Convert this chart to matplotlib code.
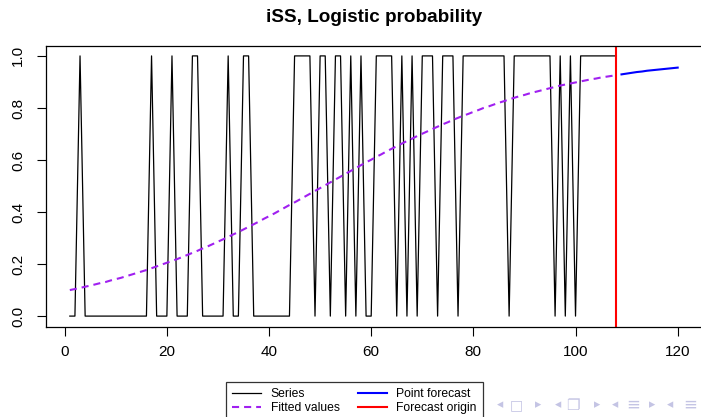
import matplotlib
matplotlib.use('Agg')
import matplotlib.pyplot as plt
from matplotlib.lines import Line2D

plt.rcParams['font.family'] = ['Liberation Sans', 'DejaVu Sans']

# Serie binaria observada (t = 1..108)
series = [0, 0, 1, 0, 0, 0, 0, 0, 0, 0, 0, 0, 0, 0, 0, 0, 1, 0, 0, 0,
          1, 0, 0, 0, 1, 1, 0, 0, 0, 0, 0, 1, 0, 0, 1, 1, 0, 0, 0, 0,
          0, 0, 0, 0, 1, 1, 1, 1, 0, 1, 1, 0, 1, 1, 0, 1, 0, 1, 0, 0,
          1, 1, 1, 1, 0, 1, 0, 1, 0, 1, 1, 1, 0, 1, 1, 1, 0, 1, 1, 1,
          1, 1, 1, 1, 1, 1, 0, 1, 1, 1, 1, 1, 1, 1, 1, 0, 1, 0, 1, 0,
          1, 1, 1, 1, 1, 1, 1, 1]

# Valores ajustados (probabilidad logistica)
fitted = [0.100, 0.104, 0.108, 0.113, 0.117, 0.122, 0.127, 0.131, 0.137, 0.142,
          0.147, 0.153, 0.159, 0.165, 0.171, 0.177, 0.184, 0.191, 0.198, 0.205,
          0.212, 0.219, 0.227, 0.235, 0.243, 0.251, 0.260, 0.268, 0.277, 0.286,
          0.295, 0.304, 0.314, 0.323, 0.333, 0.343, 0.353, 0.363, 0.374, 0.384,
          0.394, 0.405, 0.416, 0.427, 0.437, 0.448, 0.459, 0.470, 0.481, 0.492,
          0.503, 0.514, 0.525, 0.536, 0.547, 0.558, 0.569, 0.580, 0.591, 0.601,
          0.612, 0.622, 0.633, 0.643, 0.653, 0.663, 0.673, 0.682, 0.692, 0.701,
          0.710, 0.719, 0.728, 0.737, 0.745, 0.754, 0.762, 0.770, 0.777, 0.785,
          0.792, 0.800, 0.806, 0.813, 0.820, 0.826, 0.833, 0.839, 0.845, 0.850,
          0.856, 0.861, 0.866, 0.871, 0.876, 0.881, 0.886, 0.890, 0.894, 0.898,
          0.902, 0.906, 0.910, 0.913, 0.917, 0.920, 0.923, 0.926]

# Pronostico puntual (t = 109..120)
forecast = [0.929, 0.932, 0.935, 0.938, 0.940, 0.943, 0.945, 0.947, 0.949, 0.951,
            0.953, 0.955]

origin = 108
x_ticks = [0, 20, 40, 60, 80, 100, 120]
y_ticks = [0.0, 0.2, 0.4, 0.6, 0.8, 1.0]
y_labels = ['0.0', '0.2', '0.4', '0.6', '0.8', '1.0']

t_obs = list(range(1, len(series) + 1))
t_fc = list(range(origin + 1, origin + 1 + len(forecast)))

W, H = 701, 417
fig = plt.figure(figsize=(W / 100, H / 100), dpi=100)
ax = fig.add_axes([45.5 / W, 1 - 326.5 / H, (702 - 45.5) / W, (326.5 - 45.5) / H])

ax.plot(t_obs, series, color='black', lw=0.9)
ax.plot(t_obs, fitted, color='#A020F0', lw=1.5, dashes=(3.4, 2.4))
ax.plot(t_fc, forecast, color='blue', lw=1.5)
ax.axvline(origin, color='red', lw=1.5)

ax.set_xlim(-3.76, 124.76)
ax.set_ylim(-0.04, 1.04)
ax.set_xticks(x_ticks)
ax.set_yticks(y_ticks)
ax.set_yticklabels(y_labels, rotation=90, va='center')
ax.tick_params(axis='both', direction='out', length=6.5, width=0.8, labelsize=11)
ax.tick_params(axis='x', pad=6.5)
ax.tick_params(axis='y', pad=8)
for s in ax.spines.values():
    s.set_linewidth(0.9)

fig.text(374 / W, 1 - 18 / H, 'iSS, Logistic probability', ha='center', va='center',
         fontsize=13.6, fontweight='bold')

# Leyenda abajo (cortada por el borde, como en la diapositiva)
handles = [Line2D([], [], color='black', lw=0.9),
           Line2D([], [], color='#A020F0', lw=1.5, dashes=(3.4, 2.4)),
           Line2D([], [], color='blue', lw=1.5),
           Line2D([], [], color='red', lw=1.5)]
labels = ['Series', 'Fitted values', 'Point forecast', 'Forecast origin']
leg = fig.legend(handles, labels, ncol=2, loc='upper left',
                 bbox_to_anchor=(226 / W, 1 - 382 / H), fontsize=8.7,
                 frameon=True, fancybox=False, edgecolor='black',
                 handlelength=2.4, handletextpad=0.8, columnspacing=1.5,
                 borderpad=0.5, labelspacing=0.2, borderaxespad=0)
leg.get_frame().set_linewidth(0.9)

# Simbolos de navegacion de beamer
nav_color = '#c4c4e4'
nav = [(500, '◂', 9), (516, '□', 10), (538, '▸', 9), (558, '◂', 9), (573, '❐', 11),
       (597, '▸', 9), (615, '◂', 9), (633, '≡', 12), (652, '▸', 9), (670, '◂', 9),
       (690, '≡', 12)]
for px, ch, fs in nav:
    fig.text(px / W, 1 - 405 / H, ch, ha='center', va='center', fontsize=fs,
             color=nav_color, family=['DejaVu Sans'])

fig.savefig('out.png', dpi=100)
